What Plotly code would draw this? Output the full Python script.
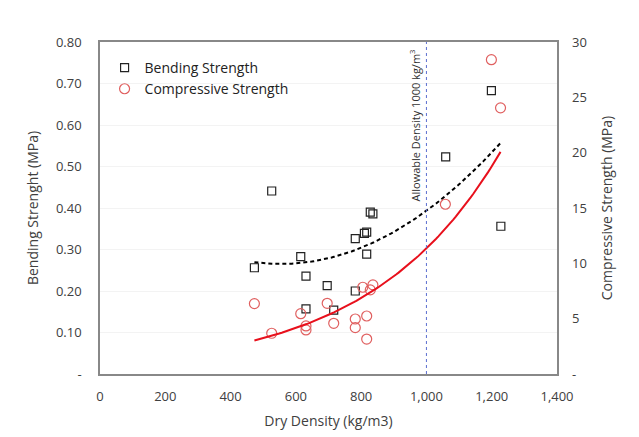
import numpy as np
import plotly.graph_objects as go

# Data
density = [473, 526, 615, 631, 631, 696, 716, 782, 782, 810, 817, 817, 828, 836, 1059, 1199, 1228]
bending = [0.256, 0.441, 0.283, 0.236, 0.157, 0.213, 0.154, 0.326, 0.200, 0.339, 0.342, 0.289, 0.390, 0.386, 0.523, 0.683, 0.356]
density_c = [473, 526, 615, 631, 631, 696, 716, 782, 782, 805, 817, 817, 828, 836, 1058, 1199, 1227]
compressive = [6.36, 3.68, 5.45, 4.34, 3.98, 6.39, 4.58, 4.97, 4.19, 7.84, 5.24, 3.16, 7.60, 8.05, 15.34, 28.4, 24.05]

x_ticks = [0, 200, 400, 600, 800, 1000, 1200, 1400]
x_ticktext = ["0", "200", "400", "600", "800", "1,000", "1,200", "1,400"]
y1_ticks = [0, 0.1, 0.2, 0.3, 0.4, 0.5, 0.6, 0.7, 0.8]
y1_ticktext = ["-", "0.10", "0.20", "0.30", "0.40", "0.50", "0.60", "0.70", "0.80"]
y2_ticks = [0, 5, 10, 15, 20, 25, 30]
y2_ticktext = ["-", "5", "10", "15", "20", "25", "30"]
allowable_density = 1000

# Trend lines (Excel-style): polynomial order 2 for bending, exponential for compressive
xb = np.array(density, float)
pb = np.polyfit(xb, np.array(bending), 2)
xb_line = np.linspace(xb.min(), xb.max(), 100)
yb_line = np.polyval(pb, xb_line)

xc = np.array(density_c, float)
k, lnA = np.polyfit(xc, np.log(np.array(compressive)), 1)
xc_line = np.linspace(xc.min(), xc.max(), 100)
yc_line = np.exp(lnA) * np.exp(k * xc_line)

FONT = "Open Sans"
TXT = "#404040"

fig = go.Figure()
fig.add_trace(go.Scatter(x=density, y=bending, mode="markers", name="Bending Strength",
                         marker=dict(symbol="square-open", size=8, color="#222222", line=dict(width=1.2))))
fig.add_trace(go.Scatter(x=density_c, y=compressive, mode="markers", name="Compressive Strength",
                         yaxis="y2",
                         marker=dict(symbol="circle-open", size=10, color="#e06060", line=dict(width=1.2))))
fig.add_trace(go.Scatter(x=xb_line, y=yb_line, mode="lines", showlegend=False,
                         line=dict(color="black", width=2, dash="4px,3px")))
fig.add_trace(go.Scatter(x=xc_line, y=yc_line, mode="lines", showlegend=False, yaxis="y2",
                         line=dict(color="#e8101c", width=2)))

fig.add_shape(type="line", x0=allowable_density, x1=allowable_density, y0=0, y1=1,
              xref="x", yref="paper", line=dict(color="#5b6fd0", width=1, dash="dot"))
fig.add_annotation(x=allowable_density, xref="x", xanchor="right", xshift=-1,
                   y=1, yref="paper", yanchor="top", yshift=-5,
                   text="Allowable Density 1000 kg/m<sup>3</sup>", textangle=-90, showarrow=False,
                   font=dict(family=FONT, size=11, color="#333333"))

fig.update_layout(
    width=639, height=437,
    margin=dict(l=100, r=82, t=42, b=63),
    paper_bgcolor="white", plot_bgcolor="white",
    font=dict(family=FONT, size=13, color=TXT),
    showlegend=True,
    legend=dict(x=0.01, y=0.97, xanchor="left", yanchor="top", bgcolor="rgba(0,0,0,0)",
                font=dict(family=FONT, size=14, color="#222222"), itemwidth=30, tracegroupgap=0),
    xaxis=dict(range=[0, 1400], tickvals=x_ticks, ticktext=x_ticktext, showgrid=False,
               showline=True, linecolor="#888888", linewidth=1.5, mirror=True, zeroline=False,
               automargin=False, tickfont=dict(size=13), ticklabelstandoff=10,
               title=dict(text="Dry Density (kg/m3)", standoff=12, font=dict(size=14)), ticks=""),
    yaxis=dict(range=[0, 0.8], tickvals=y1_ticks, ticktext=y1_ticktext, showgrid=True,
               gridcolor="#f3f3f3", showline=True, linecolor="#888888", linewidth=1.5, mirror=True,
               zeroline=False, ticklabelstandoff=14, automargin=False, tickfont=dict(size=13),
               title=dict(text="Bending Strenght (MPa)", standoff=14, font=dict(size=14)), ticks=""),
    yaxis2=dict(range=[0, 30], tickvals=y2_ticks, ticktext=y2_ticktext, overlaying="y", side="right",
                showgrid=False, zeroline=False, showline=False, ticklabelstandoff=14, automargin=False,
                tickfont=dict(size=13),
                title=dict(text="Compressive Strength (MPa)", standoff=16, font=dict(size=14)), ticks=""),
)

fig.write_html("out.html", config={"displayModeBar": False},
               post_script="document.body.style.margin='0px';")
